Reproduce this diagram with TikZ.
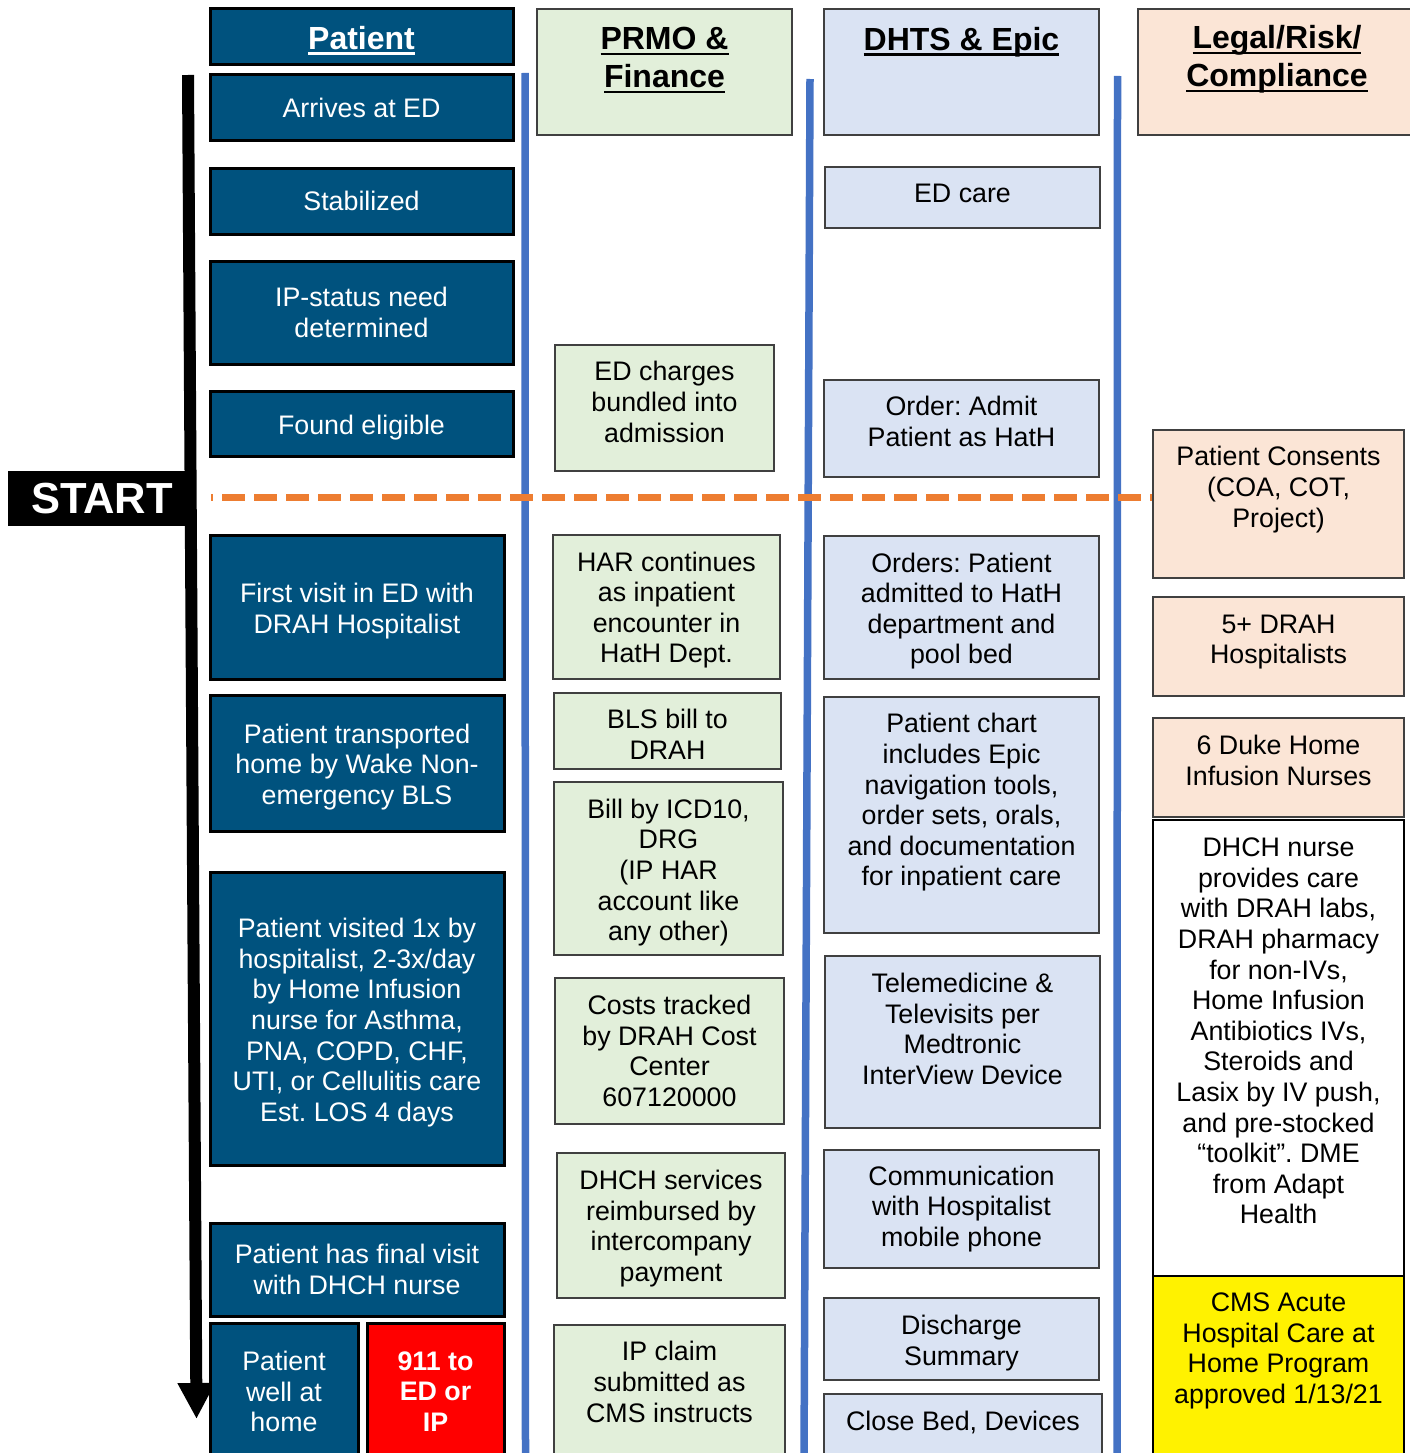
\documentclass[tikz,border=0pt]{standalone}
\usepackage{fontspec}
\setmainfont{Liberation Sans}
\usetikzlibrary{arrows.meta}
\frenchspacing

\definecolor{patblue}{RGB}{0,82,126}
\definecolor{fingreen}{RGB}{226,239,218}
\definecolor{epicblue}{RGB}{218,227,243}
\definecolor{legalpeach}{RGB}{251,229,214}
\definecolor{lanecol}{RGB}{68,114,196}
\definecolor{dashorange}{RGB}{237,125,49}
\definecolor{boxgray}{RGB}{64,64,64}

% underlined lane titles
\newcommand{\hdul}[1]{\begingroup\setbox0=\hbox{#1}\rlap{\rule[-5.5pt]{\wd0}{2.6pt}}\box0\endgroup}

\begin{document}
\begin{tikzpicture}[x = 1pt, y = -1pt,
	every node/.style = {font = \fontsize{26.8}{30.6}\selectfont, align = center, inner sep = 0pt},
	patbox/.style = {draw = black, line width = 3pt, fill = patblue, text = white},
	pattext/.style = {text = white},
	finbox/.style = {draw = boxgray, line width = 1.5pt, fill = fingreen},
	epicbox/.style = {draw = boxgray, line width = 1.5pt, fill = epicblue},
	legalbox/.style = {draw = boxgray, line width = 1.5pt, fill = legalpeach},
	hdtext/.style = {font = \bfseries\fontsize{32}{38}\selectfont},
	lane/.style = {draw = lanecol, line width = 7.5pt}]
	
	\useasboundingbox (0, 0) rectangle (1410, 1453);
	
	% Lane separators
	
	\begin{scope}[lane]
	
		\draw (525, 73) -- (525.5, 1460);
		\draw (810, 79) -- (804, 1460);
		\draw (1117.5, 76) -- (1117, 1460);
		
	\end{scope}
	
	% Admission line
	
	\draw [dashorange, line width = 7pt, dash pattern = on 23pt off 9pt, dash phase = 21pt] (211, 497) -- (1153, 497);
	
	% Time arrow and start mark
	
	\coordinate (flowtop) at (188, 75);
	\coordinate (flowend) at (196.5, 1419);
	\draw [line width = 12pt, -{Triangle[length = 36pt, width = 35pt]}] (flowtop) -- (flowend);
	\node [fill = black, text = white, font = \bfseries\fontsize{43.5}{50}\selectfont, minimum width = 188, minimum height = 55] (start) at (102, 498.5) {START};
	
	% Patient
	
	\node [patbox, minimum width = 303, minimum height = 56] (pathd) at (361.5, 37) {};
	\node [pattext, hdtext] (pathdtxt) at (361.5, 40.5) {\hdul{Patient}};
	\node [patbox, minimum width = 303, minimum height = 66] (arrive) at (361.5, 108) {Arrives at ED};
	\node [patbox, minimum width = 303, minimum height = 66] (stable) at (361.5, 201) {Stabilized};
	\node [patbox, minimum width = 303, minimum height = 103] (ipneed) at (361.5, 312.5) {IP-status need\\determined};
	\node [patbox, minimum width = 303, minimum height = 65] (eligible) at (361.5, 423.5) {};
	\node [pattext] (eligibletxt) at (361.5, 427.5) {Found eligible};
	\node [patbox, minimum width = 294, minimum height = 144] (firstvisit) at (357, 607) {};
	\node [pattext] (firstvisittxt) at (357, 611) {First visit in ED with\\DRAH Hospitalist};
	\node [patbox, minimum width = 294, minimum height = 136] (transport) at (357, 763) {};
	\node [pattext] (transporttxt) at (357, 767) {Patient transported\\home by Wake Non-\\emergency BLS};
	\node [patbox, minimum width = 294, minimum height = 293] (visits) at (357, 1018.5) {};
	\node [pattext] (visitstxt) at (357, 1022.5) {Patient visited 1x by\\hospitalist, 2-3x/day\\by Home Infusion\\nurse for Asthma,\\PNA, COPD, CHF,\\UTI, or Cellulitis care\\Est. LOS 4 days};
	\node [patbox, minimum width = 294, minimum height = 93] (finalvisit) at (357, 1269.5) {Patient has final visit\\with DHCH nurse};
	\node [patbox, minimum width = 148, minimum height = 137] (wellhome) at (284, 1391.5) {Patient\\well at\\home};
	\node [patbox, fill = red, font = \bfseries\fontsize{26.8}{30.6}\selectfont, minimum width = 137, minimum height = 137] (call911) at (435.5, 1391.5) {911 to\\ED or\\IP};
	
	% PRMO & Finance
	
	\node [finbox, minimum width = 255, minimum height = 126] (finhd) at (664.5, 72) {};
	\node [hdtext] (finhdtxt) at (664.5, 60.5) {\hdul{PRMO \&}\\\hdul{Finance}};
	\node [finbox, minimum width = 219, minimum height = 126] (edcharges) at (664.5, 408) {};
	\node (edchargestxt) at (664.5, 402) {ED charges\\bundled into\\admission};
	\node [finbox, minimum width = 227, minimum height = 144] (har) at (666.5, 607) {};
	\node (hartxt) at (666.5, 610) {HAR continues\\as inpatient\\encounter in\\HatH Dept.};
	\node [finbox, minimum width = 227, minimum height = 76] (blsbill) at (667.5, 731) {};
	\node (blsbilltxt) at (667.5, 734.5) {BLS bill to\\DRAH};
	\node [finbox, minimum width = 229, minimum height = 173] (icd) at (668.5, 868.5) {};
	\node (icdtxt) at (668.5, 872.5) {Bill by ICD10,\\DRG\\(IP HAR\\account like\\any other)};
	\node [finbox, minimum width = 229, minimum height = 146] (costs) at (669.5, 1051) {Costs tracked\\by DRAH Cost\\Center\\607120000};
	\node [finbox, minimum width = 228, minimum height = 145] (payment) at (671, 1225.5) {};
	\node (paymenttxt) at (671, 1228.5) {DHCH services\\reimbursed by\\intercompany\\payment};
	\node [finbox, minimum width = 231, minimum height = 135] (ipclaim) at (669.5, 1392.5) {};
	\node (ipclaimtxt) at (669.5, 1382) {IP claim\\submitted as\\CMS instructs};
	
	% DHTS & Epic
	
	\node [epicbox, minimum width = 275, minimum height = 126] (epichd) at (961.5, 72) {};
	\node [hdtext] (epichdtxt) at (961.5, 42) {\hdul{DHTS \& Epic}};
	\node [epicbox, minimum width = 275, minimum height = 61] (edcare) at (962.5, 197.5) {};
	\node (edcaretxt) at (962.5, 193.5) {ED care};
	\node [epicbox, minimum width = 275, minimum height = 97] (admit) at (961.5, 428.5) {};
	\node (admittxt) at (961.5, 421.5) {Order: Admit\\Patient as HatH};
	\node [epicbox, minimum width = 275, minimum height = 143] (orders) at (961.5, 607.5) {};
	\node (orderstxt) at (961.5, 611) {Orders: Patient\\admitted to HatH\\department and\\pool bed};
	\node [epicbox, minimum width = 275, minimum height = 236] (chart) at (961.5, 815) {};
	\node (charttxt) at (961.5, 802.5) {Patient chart\\includes Epic\\navigation tools,\\order sets, orals,\\and documentation\\for inpatient care};
	\node [epicbox, minimum width = 275, minimum height = 172] (tele) at (962.5, 1042) {};
	\node (teletxt) at (962.5, 1029) {Telemedicine \&\\Televisits per\\Medtronic\\InterView Device};
	\node [epicbox, minimum width = 275, minimum height = 118] (phone) at (961.5, 1209) {Communication\\with Hospitalist\\mobile phone};
	\node [epicbox, minimum width = 275, minimum height = 82] (discharge) at (961.5, 1339) {};
	\node (dischargetxt) at (961.5, 1343) {Discharge\\Summary};
	\node [epicbox, minimum width = 278, minimum height = 66] (closebed) at (963, 1427) {};
	\node (closebedtxt) at (963, 1422) {Close Bed, Devices};
	
	% Legal/Risk/Compliance
	
	\node [legalbox, minimum width = 278, minimum height = 126] (legalhd) at (1277, 72) {};
	\node [hdtext] (legalhdtxt) at (1277, 59.5) {\hdul{Legal/Risk/}\\\hdul{Compliance}};
	\node [legalbox, minimum width = 251, minimum height = 148] (consent) at (1278.5, 504) {};
	\node (consenttxt) at (1278.5, 489.5) {Patient Consents\\(COA, COT,\\Project)};
	\node [legalbox, minimum width = 251, minimum height = 99] (hospitalists) at (1278.5, 646.5) {};
	\node (hospitaliststxt) at (1278.5, 642) {5+ DRAH\\Hospitalists};
	\node [legalbox, minimum width = 251, minimum height = 99] (nurses) at (1278.5, 767.5) {};
	\node (nursestxt) at (1278.5, 760.5) {6 Duke Home\\Infusion Nurses};
	\node [draw = black, line width = 1.5pt, fill = white, minimum width = 251, minimum height = 456] (homecare) at (1278.5, 1048) {};
	\node (homecaretxt) at (1278.5, 1031) {DHCH nurse\\provides care\\with DRAH labs,\\DRAH pharmacy\\for non-IVs,\\Home Infusion\\Antibiotics IVs,\\Steroids and\\Lasix by IV push,\\and pre-stocked\\“toolkit”. DME\\from Adapt\\Health};
	\node [draw = black, line width = 1.5pt, fill = yellow, minimum width = 251, minimum height = 184] (cms) at (1278.5, 1368) {};
	\node (cmstxt) at (1278.5, 1351) {CMS Acute\\Hospital Care at\\Home Program\\approved 1/13/21};

\end{tikzpicture}
\end{document}
